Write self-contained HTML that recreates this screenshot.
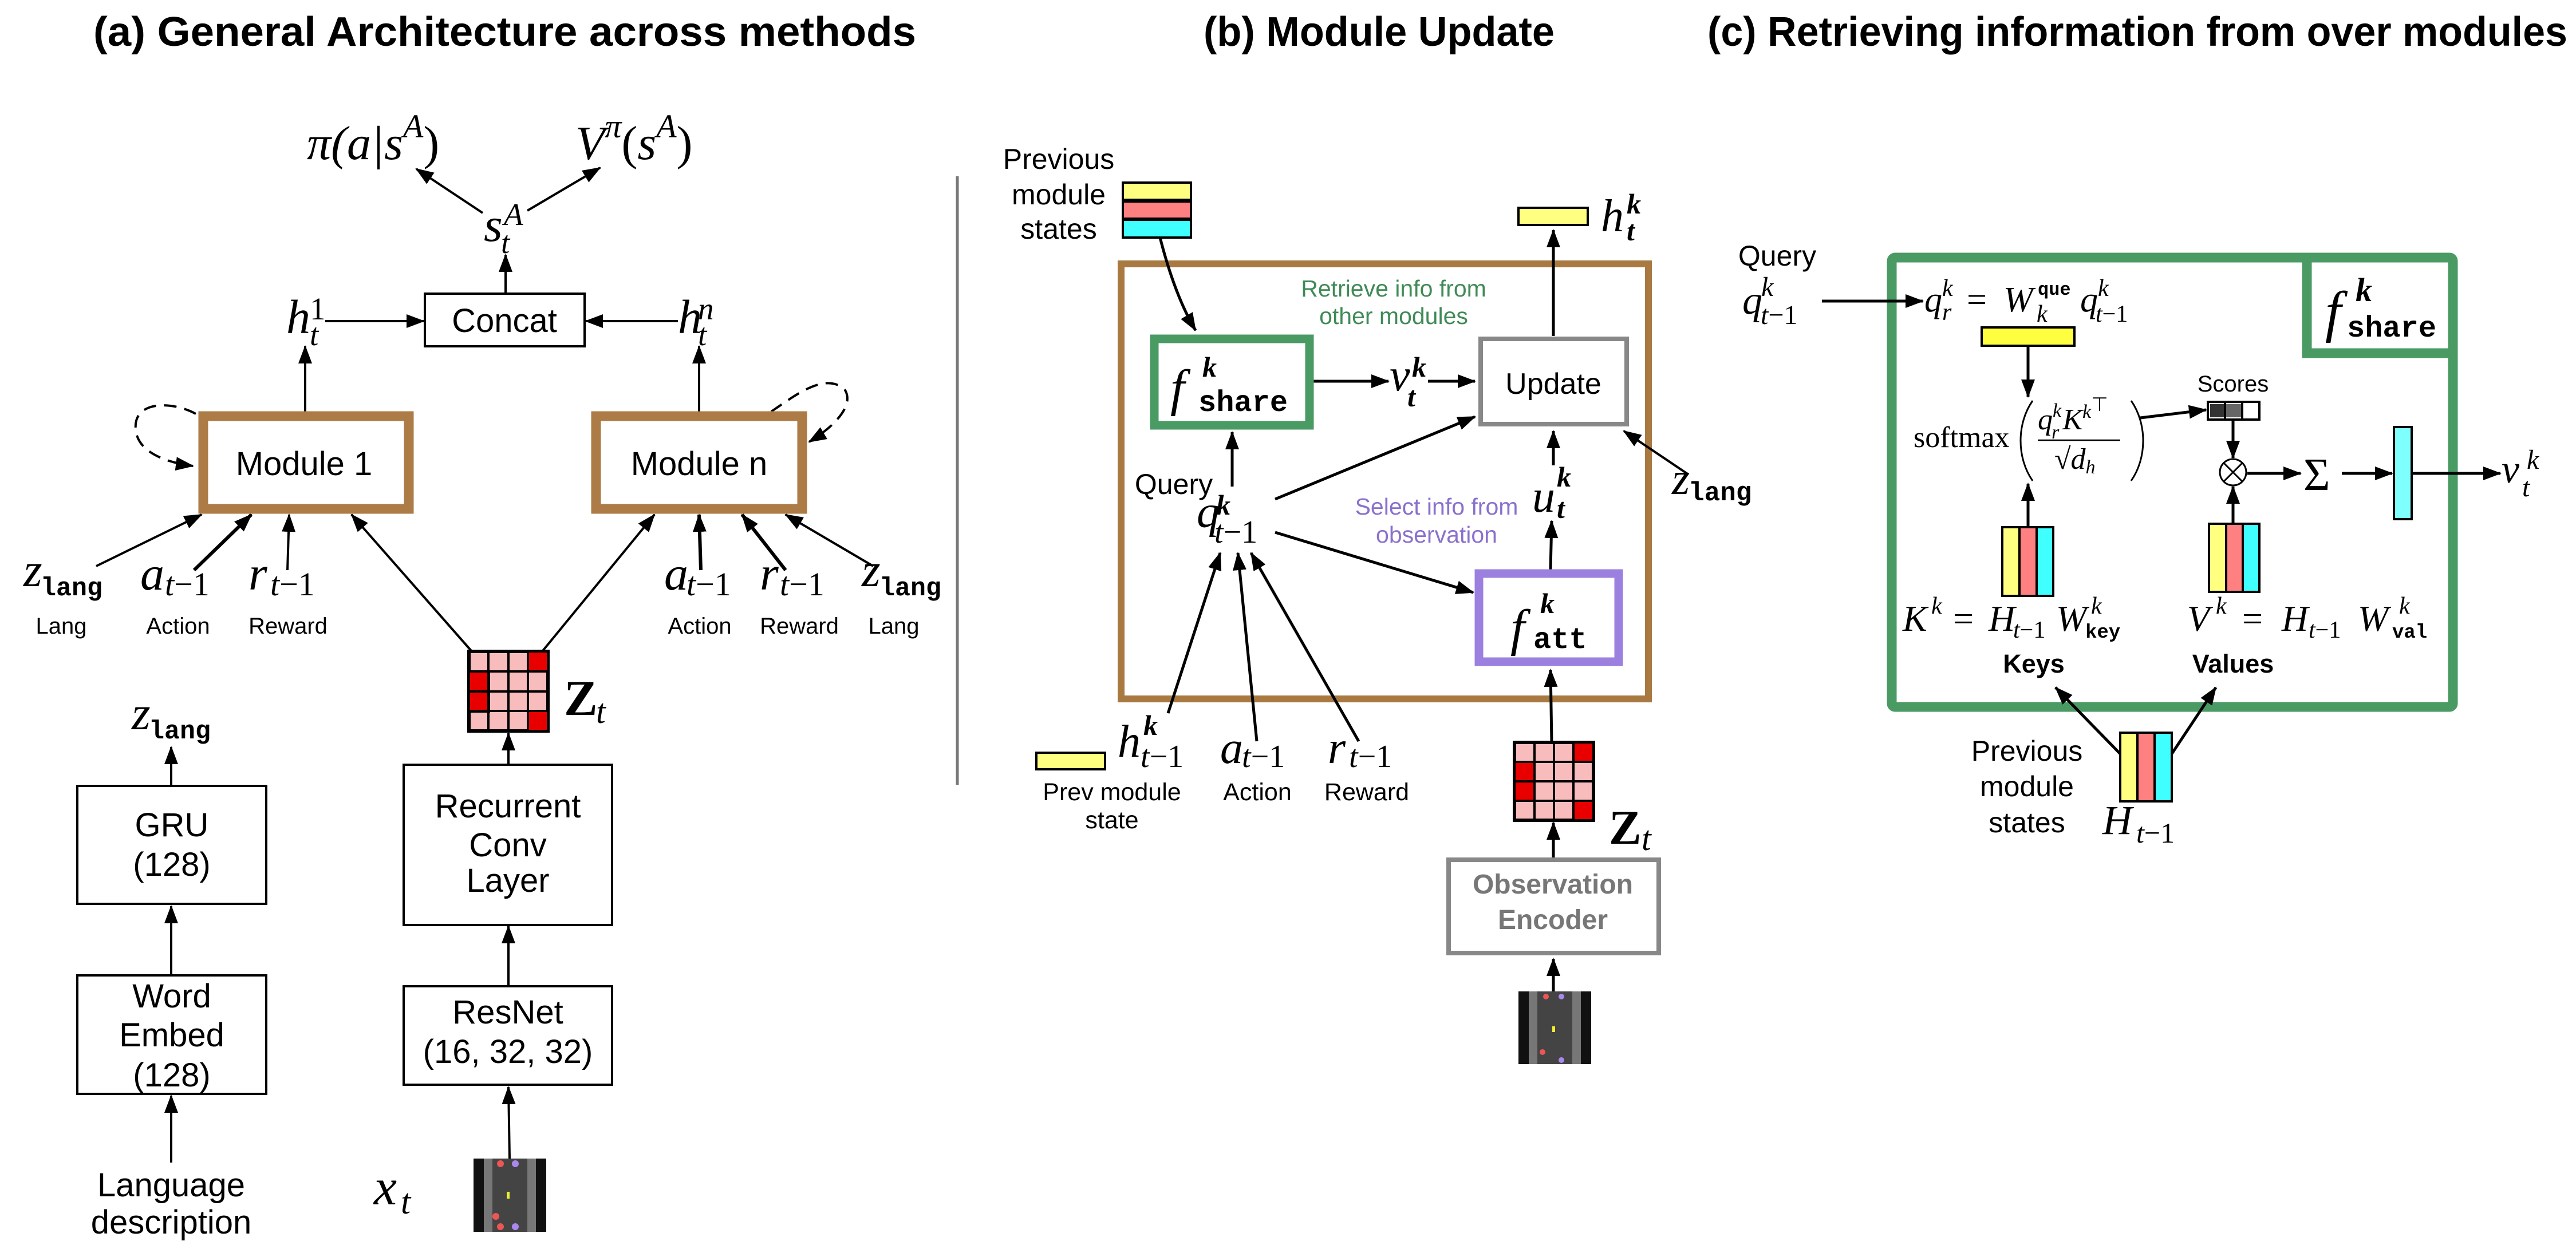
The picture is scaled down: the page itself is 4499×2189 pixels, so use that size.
<!DOCTYPE html>
<html><head><meta charset="utf-8"><style>
html,body{margin:0;padding:0;background:#fff}
svg{display:block}
.s{font-family:"Liberation Sans",sans-serif}
.m{font-family:"Liberation Serif",serif;font-style:italic}
.r{font-family:"Liberation Serif",serif}
.t{font-family:"Liberation Mono",monospace}
</style></head><body>
<svg width="4499" height="2189" viewBox="0 0 4499 2189" xmlns="http://www.w3.org/2000/svg">
<defs>
<marker id="a" markerUnits="userSpaceOnUse" markerWidth="32" markerHeight="24" refX="30" refY="12" orient="auto"><path d="M0,0 L32,12 L0,24 z" fill="#000"/></marker>
</defs>
<rect width="4499" height="2189" fill="#fff"/>

<!-- Titles -->
<g class="s" font-weight="bold" font-size="72">
<text x="163" y="80" textLength="1437" lengthAdjust="spacingAndGlyphs">(a) General Architecture across methods</text>
<text x="2102" y="80" textLength="613" lengthAdjust="spacingAndGlyphs">(b) Module Update</text>
<text x="2982" y="80" textLength="1502" lengthAdjust="spacingAndGlyphs">(c) Retrieving information from over modules</text>
</g>

<!-- ================= PANEL A ================= -->
<g stroke="#000" stroke-width="4" fill="none">
<line x1="843" y1="372" x2="727" y2="295" marker-end="url(#a)"/>
<line x1="921" y1="368" x2="1048" y2="293" marker-end="url(#a)"/>
<line x1="883" y1="512" x2="883" y2="445" marker-end="url(#a)"/>
<line x1="568" y1="561" x2="740" y2="561" marker-end="url(#a)"/>
<line x1="1184" y1="561" x2="1023" y2="561" marker-end="url(#a)"/>
<line x1="533" y1="719" x2="533" y2="605" marker-end="url(#a)"/>
<line x1="1221" y1="719" x2="1221" y2="605" marker-end="url(#a)"/>
<path d="M342,723 C300,700 232,700 237,750 C240,790 290,808 337,814" stroke-dasharray="22,14" marker-end="url(#a)"/>
<path d="M1347,719 C1390,690 1440,650 1475,680 C1495,710 1450,750 1413,772" stroke-dasharray="22,14" marker-end="url(#a)"/>
<line x1="168" y1="989" x2="352" y2="899" marker-end="url(#a)"/>
<line x1="339" y1="996" x2="439" y2="899" stroke-width="6" marker-end="url(#a)"/>
<line x1="502" y1="996" x2="505" y2="899" marker-end="url(#a)"/>
<line x1="824" y1="1138" x2="614" y2="899" marker-end="url(#a)"/>
<line x1="947" y1="1138" x2="1143" y2="899" marker-end="url(#a)"/>
<line x1="1224" y1="996" x2="1221" y2="899" stroke-width="6" marker-end="url(#a)"/>
<line x1="1372" y1="996" x2="1296" y2="899" stroke-width="6" marker-end="url(#a)"/>
<line x1="1525" y1="989" x2="1372" y2="899" marker-end="url(#a)"/>
<line x1="888" y1="1336" x2="888" y2="1281" marker-end="url(#a)"/>
<line x1="888" y1="1723" x2="888" y2="1618" marker-end="url(#a)"/>
<line x1="890" y1="2024" x2="888" y2="1899" marker-end="url(#a)"/>
<line x1="299" y1="1373" x2="299" y2="1305" marker-end="url(#a)"/>
<line x1="299" y1="1704" x2="299" y2="1583" marker-end="url(#a)"/>
<line x1="299" y1="2031" x2="299" y2="1914" marker-end="url(#a)"/>
</g>
<rect x="742" y="513" width="279" height="92" fill="#fff" stroke="#000" stroke-width="4"/>
<rect x="355" y="727" width="359" height="162" fill="#fff" stroke="#ad7b45" stroke-width="17"/>
<rect x="1041" y="727" width="360" height="162" fill="#fff" stroke="#ad7b45" stroke-width="17"/>
<rect x="135" y="1373" width="330" height="206" fill="#fff" stroke="#000" stroke-width="4"/>
<rect x="135" y="1704" width="330" height="207" fill="#fff" stroke="#000" stroke-width="4"/>
<rect x="705" y="1336" width="364" height="280" fill="#fff" stroke="#000" stroke-width="4"/>
<rect x="705" y="1723" width="364" height="172" fill="#fff" stroke="#000" stroke-width="4"/>

<g class="s" font-size="58" text-anchor="middle">
<text x="881" y="580">Concat</text>
<text x="531" y="830">Module 1</text>
<text x="1221" y="830">Module n</text>
<text x="300" y="1461">GRU</text>
<text x="300" y="1530">(128)</text>
<text x="300" y="1760">Word</text>
<text x="300" y="1828">Embed</text>
<text x="300" y="1898">(128)</text>
<text x="887" y="1428">Recurrent</text>
<text x="887" y="1496">Conv</text>
<text x="887" y="1558">Layer</text>
<text x="887" y="1788">ResNet</text>
<text x="887" y="1857">(16, 32, 32)</text>
<text x="299" y="2090">Language</text>
<text x="299" y="2155">description</text>
</g>
<g class="s" font-size="40" text-anchor="middle">
<text x="107" y="1107">Lang</text>
<text x="311" y="1107">Action</text>
<text x="503" y="1107">Reward</text>
<text x="1222" y="1107">Action</text>
<text x="1396" y="1107">Reward</text>
<text x="1561" y="1107">Lang</text>
</g>

<!-- math a -->
<g class="m" font-size="84">
<text x="536" y="278">π(a|s<tspan font-size="58" dy="-38">A</tspan><tspan dy="38" font-style="normal">)</tspan></text>
<text x="1005" y="278">V<tspan font-size="58" dy="-38">π</tspan><tspan dy="38" font-style="normal">(</tspan>s<tspan font-size="58" dy="-38">A</tspan><tspan dy="38" font-style="normal">)</tspan></text>
<text x="845" y="421">s</text>
<text x="880" y="393" font-size="55">A</text>
<text x="875" y="442" font-size="55">t</text>
<text x="500" y="582">h</text>
<text x="541" y="558" font-size="55" font-style="normal">1</text>
<text x="541" y="603" font-size="55">t</text>
<text x="1184" y="582">h</text>
<text x="1219" y="558" font-size="55">n</text>
<text x="1219" y="603" font-size="55">t</text>
<text x="41" y="1024">z</text>
<text x="245" y="1030">a</text>
<text x="288" y="1040" font-size="58">t<tspan font-style="normal">−1</tspan></text>
<text x="434" y="1030">r</text>
<text x="472" y="1040" font-size="58">t<tspan font-style="normal">−1</tspan></text>
<text x="1160" y="1030">a</text>
<text x="1199" y="1040" font-size="58">t<tspan font-style="normal">−1</tspan></text>
<text x="1327" y="1030">r</text>
<text x="1362" y="1040" font-size="58">t<tspan font-style="normal">−1</tspan></text>
<text x="1505" y="1024">z</text>
<text x="230" y="1274">z</text>
<text x="653" y="2104" font-size="90">x</text>
<text x="700" y="2120" font-size="62">t</text>
<text x="1041" y="1263" font-size="60">t</text>
</g>
<text x="985" y="1249" class="r" font-weight="bold" font-size="88">Z</text>
<g class="t" font-size="45" font-weight="bold">
<text x="71" y="1040">lang</text>
<text x="1536" y="1040">lang</text>
<text x="260" y="1290">lang</text>
</g>

<!-- Z grid a -->
<g stroke="#000" stroke-width="4">
<rect x="819" y="1138" width="138" height="139" fill="#f9bcbc" stroke-width="6"/>
<rect x="922" y="1138" width="35" height="35" fill="#e80000"/>
<rect x="819" y="1173" width="35" height="35" fill="#e80000"/>
<rect x="819" y="1208" width="35" height="35" fill="#e80000"/>
<rect x="922" y="1242" width="35" height="35" fill="#e80000"/>
<line x1="853" y1="1138" x2="853" y2="1277"/><line x1="888" y1="1138" x2="888" y2="1277"/><line x1="922" y1="1138" x2="922" y2="1277"/>
<line x1="819" y1="1173" x2="957" y2="1173"/><line x1="819" y1="1208" x2="957" y2="1208"/><line x1="819" y1="1242" x2="957" y2="1242"/>
</g>
<!-- game image a -->
<g>
<rect x="827" y="2024" width="127" height="128" fill="#111"/>
<rect x="845" y="2024" width="91" height="128" fill="#777"/>
<rect x="860" y="2024" width="61" height="128" fill="#444"/>
<circle cx="874" cy="2033" r="6" fill="#e55"/><circle cx="900" cy="2033" r="6" fill="#a8e"/>
<rect x="885" y="2082" width="5" height="12" fill="#ee3"/>
<circle cx="866" cy="2125" r="6" fill="#e55"/><circle cx="874" cy="2143" r="6" fill="#e55"/><circle cx="900" cy="2143" r="6" fill="#a8e"/>
</g>

<!-- divider -->
<line x1="1672" y1="308" x2="1672" y2="1371" stroke="#777" stroke-width="5"/>

<!-- ================= PANEL B ================= -->
<g class="s" font-size="50" text-anchor="middle">
<text x="1849" y="295">Previous</text>
<text x="1849" y="357">module</text>
<text x="1849" y="417">states</text>
<text x="2050" y="863">Query</text>
</g>
<g stroke="#000" stroke-width="4">
<rect x="1961" y="319" width="119" height="30" fill="#ffff80"/>
<rect x="1961" y="352" width="119" height="30" fill="#ff8080"/>
<rect x="1961" y="384" width="119" height="31" fill="#40ffff"/>
<rect x="2652" y="363" width="121" height="30" fill="#ffff80"/>
<rect x="1810" y="1315" width="120" height="29" fill="#ffff80"/>
</g>
<rect x="1958" y="461" width="921" height="760" fill="none" stroke="#a87a42" stroke-width="12"/>
<g class="s" font-size="41" text-anchor="middle" fill="#3f8a57">
<text x="2434" y="518">Retrieve info from</text>
<text x="2434" y="566">other modules</text>
</g>
<g class="s" font-size="41" text-anchor="middle" fill="#8a70cc">
<text x="2509" y="899">Select info from</text>
<text x="2509" y="948">observation</text>
</g>
<g stroke="#000" stroke-width="5" fill="none">
<path d="M2026,415 C2040,470 2060,530 2088,577" marker-end="url(#a)"/>
<line x1="2713" y1="587" x2="2713" y2="402" marker-end="url(#a)"/>
<line x1="2294" y1="666" x2="2425" y2="666" marker-end="url(#a)"/>
<line x1="2494" y1="666" x2="2576" y2="666" marker-end="url(#a)"/>
<line x1="2949" y1="829" x2="2836" y2="753" stroke-width="4" marker-end="url(#a)"/>
<line x1="2713" y1="813" x2="2713" y2="753" marker-end="url(#a)"/>
<line x1="2708" y1="995" x2="2710" y2="910" marker-end="url(#a)"/>
<line x1="2152" y1="850" x2="2152" y2="755" marker-end="url(#a)"/>
<line x1="2227" y1="872" x2="2576" y2="728" marker-end="url(#a)"/>
<line x1="2227" y1="930" x2="2573" y2="1035" marker-end="url(#a)"/>
<line x1="2040" y1="1246" x2="2131" y2="966" marker-end="url(#a)"/>
<line x1="2195" y1="1295" x2="2162" y2="966" marker-end="url(#a)"/>
<line x1="2373" y1="1295" x2="2185" y2="966" marker-end="url(#a)"/>
<line x1="2710" y1="1297" x2="2708" y2="1170" marker-end="url(#a)"/>
<line x1="2713" y1="1498" x2="2713" y2="1437" marker-end="url(#a)"/>
<line x1="2713" y1="1732" x2="2713" y2="1675" marker-end="url(#a)"/>
</g>
<rect x="2016" y="592" width="271" height="151" fill="#fff" stroke="#4a9a64" stroke-width="15"/>
<rect x="2586" y="592" width="255" height="149" fill="#fff" stroke="#888" stroke-width="8"/>
<text x="2713" y="688" class="s" font-size="52" text-anchor="middle">Update</text>
<rect x="2583" y="1002" width="244" height="154" fill="#fff" stroke="#9b80e0" stroke-width="15"/>
<rect x="2530" y="1502" width="367" height="163" fill="#fff" stroke="#888" stroke-width="8"/>
<g class="s" font-size="48" font-weight="bold" fill="#777" text-anchor="middle">
<text x="2712" y="1561">Observation</text>
<text x="2712" y="1623">Encoder</text>
</g>
<g class="s" font-size="43" text-anchor="middle">
<text x="1942" y="1398">Prev module</text>
<text x="1942" y="1447">state</text>
<text x="2196" y="1398">Action</text>
<text x="2387" y="1398">Reward</text>
</g>
<!-- math b -->
<g class="m" font-size="90">
<text x="2044" y="708">f</text>
<text x="2638" y="1127">f</text>
</g>
<g class="m" font-size="50" font-weight="bold">
<text x="2100" y="658">k</text>
<text x="2690" y="1071">k</text>
<text x="2841" y="373">k</text>
<text x="2719" y="850">k</text>
<text x="2124" y="899">k</text>
<text x="1997" y="1284">k</text>
<text x="2466" y="658">k</text>
<text x="2841" y="420">t</text>
<text x="2719" y="905">t</text>
<text x="2458" y="710">t</text>
</g>
<g class="t" font-weight="bold">
<text x="2093" y="718" font-size="52">share</text>
<text x="2678" y="1132" font-size="52">att</text>
<text x="2949" y="874" font-size="46">lang</text>
</g>
<g class="m" font-size="80">
<text x="2796" y="404">h</text>
<text x="2427" y="682">ν</text>
<text x="2676" y="894">u</text>
<text x="2090" y="921">q</text>
<text x="2121" y="948" font-size="56">t<tspan font-style="normal">−1</tspan></text>
<text x="2920" y="863">z</text>
<text x="1952" y="1322">h</text>
<text x="1992" y="1340" font-size="56">t<tspan font-style="normal">−1</tspan></text>
<text x="2131" y="1333">a</text>
<text x="2169" y="1340" font-size="56">t<tspan font-style="normal">−1</tspan></text>
<text x="2319" y="1333">r</text>
<text x="2356" y="1340" font-size="56">t<tspan font-style="normal">−1</tspan></text>
<text x="2867" y="1485" font-size="60">t</text>
</g>
<text x="2810" y="1474" class="r" font-weight="bold" font-size="85">Z</text>
<!-- Z grid b -->
<g stroke="#000" stroke-width="4">
<rect x="2645" y="1297" width="138" height="136" fill="#f9bcbc" stroke-width="6"/>
<rect x="2748" y="1297" width="35" height="34" fill="#e80000"/>
<rect x="2645" y="1331" width="35" height="34" fill="#e80000"/>
<rect x="2645" y="1365" width="35" height="34" fill="#e80000"/>
<rect x="2748" y="1399" width="35" height="34" fill="#e80000"/>
<line x1="2680" y1="1297" x2="2680" y2="1433"/><line x1="2714" y1="1297" x2="2714" y2="1433"/><line x1="2748" y1="1297" x2="2748" y2="1433"/>
<line x1="2645" y1="1331" x2="2783" y2="1331"/><line x1="2645" y1="1365" x2="2783" y2="1365"/><line x1="2645" y1="1399" x2="2783" y2="1399"/>
</g>
<g>
<rect x="2652" y="1732" width="127" height="127" fill="#111"/>
<rect x="2670" y="1732" width="91" height="127" fill="#777"/>
<rect x="2685" y="1732" width="61" height="127" fill="#444"/>
<circle cx="2700" cy="1741" r="5" fill="#e55"/><circle cx="2727" cy="1741" r="5" fill="#a8e"/>
<rect x="2711" y="1793" width="5" height="10" fill="#ee3"/>
<circle cx="2694" cy="1838" r="5" fill="#e55"/><circle cx="2727" cy="1852" r="5" fill="#a8e"/>
</g>

<!-- ================= PANEL C ================= -->
<rect x="3304" y="450" width="980" height="785" rx="6" fill="none" stroke="#4a9a64" stroke-width="17"/>
<path d="M4029,450 L4029,617 L4284,617" fill="none" stroke="#4a9a64" stroke-width="17"/>
<g class="s" font-size="50" text-anchor="middle">
<text x="3104" y="464">Query</text>
<text x="3540" y="1329">Previous</text>
<text x="3540" y="1391">module</text>
<text x="3540" y="1454">states</text>
</g>
<text x="3900" y="684" class="s" font-size="40" text-anchor="middle">Scores</text>
<g class="s" font-size="45" font-weight="bold" text-anchor="middle">
<text x="3552" y="1175">Keys</text>
<text x="3900" y="1175">Values</text>
</g>
<g stroke="#000" stroke-width="5" fill="none">
<line x1="3182" y1="526" x2="3358" y2="526" marker-end="url(#a)"/>
<line x1="3542" y1="604" x2="3542" y2="693" marker-end="url(#a)"/>
<line x1="3542" y1="921" x2="3542" y2="845" marker-end="url(#a)"/>
<line x1="3738" y1="730" x2="3853" y2="716" marker-end="url(#a)"/>
<line x1="3900" y1="733" x2="3900" y2="800" marker-end="url(#a)"/>
<line x1="3900" y1="915" x2="3900" y2="850" marker-end="url(#a)"/>
<line x1="3925" y1="827" x2="4018" y2="827" marker-end="url(#a)"/>
<line x1="4090" y1="827" x2="4178" y2="827" marker-end="url(#a)"/>
<line x1="4212" y1="827" x2="4367" y2="827" marker-end="url(#a)"/>
<line x1="3703" y1="1317" x2="3590" y2="1201" marker-end="url(#a)"/>
<line x1="3793" y1="1317" x2="3870" y2="1201" marker-end="url(#a)"/>
<path d="M3550,700 C3522,740 3522,800 3550,840" stroke-width="3"/>
<path d="M3722,700 C3750,740 3750,800 3722,840" stroke-width="3"/>
<line x1="3559" y1="769" x2="3703" y2="769" stroke-width="2.5"/>
<circle cx="3900" cy="825" r="23" fill="#fff" stroke-width="3"/>
<line x1="3884" y1="809" x2="3916" y2="841" stroke-width="3"/>
<line x1="3916" y1="809" x2="3884" y2="841" stroke-width="3"/>
</g>
<g stroke="#000" stroke-width="4">
<rect x="3461" y="572" width="162" height="32" fill="#ffff40"/>
<rect x="3856" y="702" width="90" height="31" fill="#fff"/>
<rect x="3860" y="706" width="26" height="23" fill="#333" stroke="none"/>
<rect x="3888" y="706" width="26" height="23" fill="#666" stroke="none"/>
<line x1="3886" y1="702" x2="3886" y2="733"/><line x1="3916" y1="702" x2="3916" y2="733"/>
<rect x="3497" y="921" width="30" height="120" fill="#ffff80"/>
<rect x="3527" y="921" width="30" height="120" fill="#ff8080"/>
<rect x="3557" y="921" width="29" height="120" fill="#40ffff"/>
<rect x="3858" y="915" width="30" height="119" fill="#ffff80"/>
<rect x="3888" y="915" width="29" height="119" fill="#ff8080"/>
<rect x="3917" y="915" width="29" height="119" fill="#40ffff"/>
<rect x="4181" y="746" width="31" height="161" fill="#80ffff"/>
<rect x="3703" y="1280" width="30" height="120" fill="#ffff80"/>
<rect x="3733" y="1280" width="30" height="120" fill="#ff8080"/>
<rect x="3763" y="1280" width="30" height="120" fill="#40ffff"/>
</g>
<!-- math c -->
<g class="m">
<text x="3043" y="548" font-size="70">q</text>
<text x="3076" y="517" font-size="48">k</text>
<text x="3075" y="566" font-size="48">t<tspan font-style="normal">−1</tspan></text>
<text x="3361" y="544" font-size="62">q</text>
<text x="3392" y="517" font-size="42">k</text>
<text x="3392" y="559" font-size="42">r</text>
<text x="3435" y="544" font-size="62" font-style="normal">=</text>
<text x="3499" y="544" font-size="62">W</text>
<text x="3557" y="562" font-size="42">k</text>
<text x="3633" y="544" font-size="62">q</text>
<text x="3664" y="517" font-size="42">k</text>
<text x="3660" y="562" font-size="42">t<tspan font-style="normal">−1</tspan></text>
<text x="3342" y="781" font-size="52" font-style="normal">softmax</text>
<text x="3559" y="750" font-size="52">q<tspan font-size="34" dy="-22">k</tspan><tspan dx="-17" dy="38" font-size="34">r</tspan><tspan dy="-16" dx="6">K</tspan><tspan font-size="34" dy="-20">k</tspan><tspan font-size="34" dy="-12" font-style="normal">⊤</tspan></text>
<text x="3588" y="819" font-size="52" font-style="normal">√<tspan font-style="italic">d</tspan><tspan font-style="italic" font-size="34" dy="8">h</tspan></text>

<text x="3323" y="1102" font-size="64">K</text>
<text x="3373" y="1072" font-size="42">k</text>
<text x="3411" y="1102" font-size="64" font-style="normal">=</text>
<text x="3473" y="1102" font-size="64">H</text>
<text x="3516" y="1114" font-size="42">t<tspan font-style="normal">−1</tspan></text>
<text x="3591" y="1102" font-size="64">W</text>
<text x="3652" y="1072" font-size="42">k</text>

<text x="3820" y="1102" font-size="64">V</text>
<text x="3870" y="1072" font-size="42">k</text>
<text x="3916" y="1102" font-size="64" font-style="normal">=</text>
<text x="3985" y="1102" font-size="64">H</text>
<text x="4032" y="1114" font-size="42">t<tspan font-style="normal">−1</tspan></text>
<text x="4118" y="1102" font-size="64">W</text>
<text x="4190" y="1072" font-size="42">k</text>

<text x="4023" y="856" font-size="80" font-style="normal">Σ</text>
<text x="4369" y="843" font-size="70">ν</text>
<text x="4413" y="819" font-size="48">k</text>
<text x="4405" y="867" font-size="48">t</text>
<text x="4061" y="578" font-size="100">f</text>
<text x="4114" y="526" font-size="58" font-weight="bold">k</text>
<text x="3672" y="1457" font-size="72">H</text>
<text x="3731" y="1472" font-size="50">t<tspan font-style="normal">−1</tspan></text>
</g>
<g class="t" font-weight="bold">
<text x="3559" y="515" font-size="32">que</text>
<text x="3642" y="1114" font-size="34">key</text>
<text x="4178" y="1114" font-size="34">val</text>
<text x="4099" y="588" font-size="52">share</text>
</g>
</svg>
</body></html>
